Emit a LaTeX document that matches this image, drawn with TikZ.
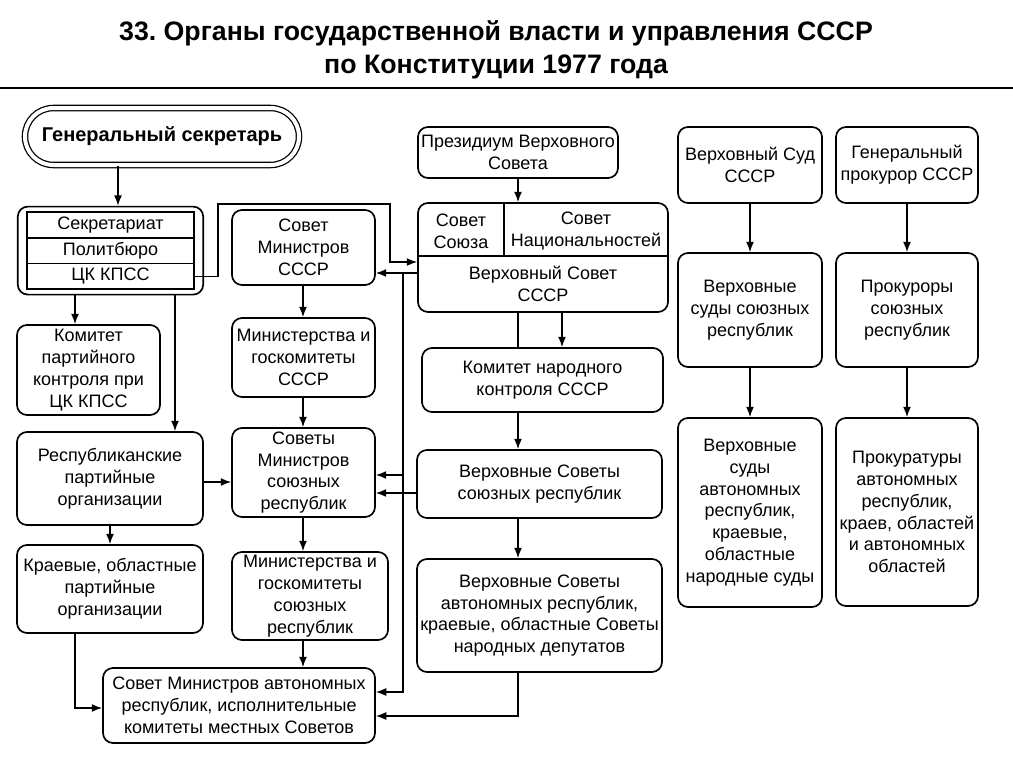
\documentclass[tikz,border=0pt]{standalone}
\usepackage{fontspec}
\setmainfont{Liberation Sans}
\usetikzlibrary{arrows.meta,positioning,fit}
\tikzset{
  box/.style={draw,line width=1.2pt,rounded corners=2.5mm,align=center,inner sep=1pt,
              font=\fontsize{12.8}{15.5}\selectfont},
  row/.style={draw,line width=1.1pt,minimum width=41.75mm,minimum height=6.4mm,
              inner sep=0pt,outer sep=0pt,font=\fontsize{12.8}{15.5}\selectfont},
  arr/.style={-{Latex[length=2.6mm,width=2mm]},line width=1pt},
  link/.style={line width=1pt},
}

\begin{document}
\frenchspacing
\begin{tikzpicture}[x=0.25mm,y=-0.25mm,
  sz/.style 2 args={minimum width=#1,minimum height=#2}]
  \useasboundingbox (0,0) rectangle (1013,768);

  % ---- title ----
  \node[font=\bfseries\fontsize{19}{23.6}\selectfont,align=center] (title) at (496,50)
    {33. Органы государственной власти и управления СССР\\по Конституции 1977 года};
  \draw[line width=2pt] (0,88) -- (1013,88);

  % ---- party ----
  \node[box,sz={68.5mm}{14.25mm},rounded corners=7.1mm,double,double distance=1mm,line width=0.9pt,
        font=\bfseries\fontsize{14.2}{16}\selectfont] (gensec) at (162,136.5) {Генеральный секретарь};
  \node[row] (sek) at (110.5,225) {Секретариат};
  \node[row,below=0pt of sek] (pol) {Политбюро};
  \node[row,below=0pt of pol] (ck) {ЦК КПСС};
  \node[draw,line width=1.2pt,rounded corners=2.5mm,fit=(sek)(ck),inner xsep=2.3mm,inner ysep=1.4mm] (party) {};
  \node[box,sz={35.75mm}{22.5mm}] (kpk) at (88.5,370) {Комитет\\партийного\\контроля при\\ЦК КПСС};
  \node[box,sz={46.5mm}{23.25mm}] (resp) at (110,478.5) {Республиканские\\партийные\\организации};
  \node[box,sz={46.5mm}{22mm}] (kraev) at (110,589) {Краевые, областные\\партийные\\организации};
  \node[box,sz={68mm}{18.75mm}] (sma) at (239,705.5)
    {Совет Министров автономных\\республик, исполнительные\\комитеты местных Советов};

  % ---- government ----
  \node[box,sz={35.75mm}{18.75mm}] (smsssr) at (303.5,247.5) {Совет\\Министров\\СССР};
  \node[box,sz={35.75mm}{19.75mm}] (minsssr) at (303.5,357.5) {Министерства и\\госкомитеты\\СССР};
  \node[box,sz={35.75mm}{22.25mm}] (smsr) at (303.5,472.5) {Советы\\Министров\\союзных\\республик};
  \node[box,sz={39mm}{22mm}] (minsr) at (310,596) {Министерства и\\госкомитеты\\союзных\\республик};

  % ---- soviets ----
  \node[box,sz={50mm}{12.75mm}] (prez) at (518,152.5) {Президиум Верховного\\Совета};
  \node[box,sz={62.5mm}{27.25mm}] (vs) at (543,257.5) {};
  \draw[line width=1.2pt] (vs.west |- 0,256) -- (vs.east |- 0,256);
  \draw[line width=1.2pt] (504,0 |- vs.north) -- (504,256);
  \node[box,draw=none] (sou) at (461,231) {Совет\\Союза};
  \node[box,draw=none] (nat) at (586,231) {Совет\\Национальностей};
  \node[box,draw=none] (vsname) at (543,284) {Верховный Совет\\СССР};
  \node[box,sz={60.25mm}{16mm}] (knk) at (542.5,380) {Комитет народного\\контроля СССР};
  \node[box,sz={61.25mm}{17mm}] (vssr) at (539.5,484) {Верховные Советы\\союзных республик};
  \node[box,sz={61.25mm}{28.25mm}] (vsar) at (539.5,615.5)
    {Верховные Советы\\автономных республик,\\краевые, областные Советы\\народных депутатов};

  % ---- courts and procuracy ----
  \node[box,sz={36mm}{19mm}] (vsud) at (750,165) {Верховный Суд\\СССР};
  \node[box,sz={36mm}{28.5mm}] (vssud) at (750,310) {Верховные\\суды союзных\\республик};
  \node[box,sz={36mm}{47.25mm}] (vsasud) at (750,512.5)
    {Верховные\\суды\\автономных\\республик,\\краевые,\\областные\\народные суды};
  \node[box,sz={35.5mm}{19mm}] (genpr) at (907,165) {Генеральный\\прокурор СССР};
  \node[box,sz={35.5mm}{28.5mm}] (prsr) at (907,310) {Прокуроры\\союзных\\республик};
  \node[box,sz={35.5mm}{47mm}] (prar) at (907,512)
    {Прокуратуры\\автономных\\республик,\\краев, областей\\и автономных\\областей};

  % ---- links ----
  \draw[arr] (118,0 |- gensec.south) -- (118,0 |- party.north);
  \draw[arr] (75,0 |- party.south) -- (75,0 |- kpk.north);
  \draw[arr] (175,0 |- party.south) -- (175,0 |- resp.north);
  \draw[arr] (110,0 |- resp.south) -- (110,0 |- kraev.north);
  \draw[arr] (75,0 |- kraev.south) |- (sma.west |- 0,708);
  \draw[arr] (resp.east |- 0,482) -- (smsr.west |- 0,482);
  \foreach \a/\b in {smsssr/minsssr,minsssr/smsr,smsr/minsr,minsr/sma}
    \draw[arr] (303,0 |- \a.south) -- (303,0 |- \b.north);
  \foreach \a/\b in {vsud/vssud,vssud/vsasud,genpr/prsr,prsr/prar}
    \draw[arr] (\a.south) -- (\b.north);

  \draw[arr] (518,0 |- prez.south) -- (518,0 |- vs.north);
  \draw[arr] (562,0 |- vs.south) -- (562,0 |- knk.north);
  \draw[link] (518,0 |- vs.south) -- (518,0 |- knk.north);
  \draw[arr] (518,0 |- knk.south) -- (518,0 |- vssr.north);
  \draw[arr] (518,0 |- vssr.south) -- (518,0 |- vsar.north);
  \draw[arr] (518,0 |- vsar.south) |- (sma.east |- 0,716);

  \draw[arr] (ck.east) -- (218,0 |- ck.east) |- (390,204) |- (vs.west |- 0,262);
  \draw[arr] (vs.west |- 0,273) -- (smsssr.east |- 0,273);
  \coordinate (bus) at (403,273);
  \draw[arr] (bus) |- (sma.east |- 0,692);
  \draw[arr] (bus |- 0,475) -- (smsr.east |- 0,475);
  \draw[arr] (vssr.west |- 0,493) -- (smsr.east |- 0,493);
\end{tikzpicture}
\end{document}
